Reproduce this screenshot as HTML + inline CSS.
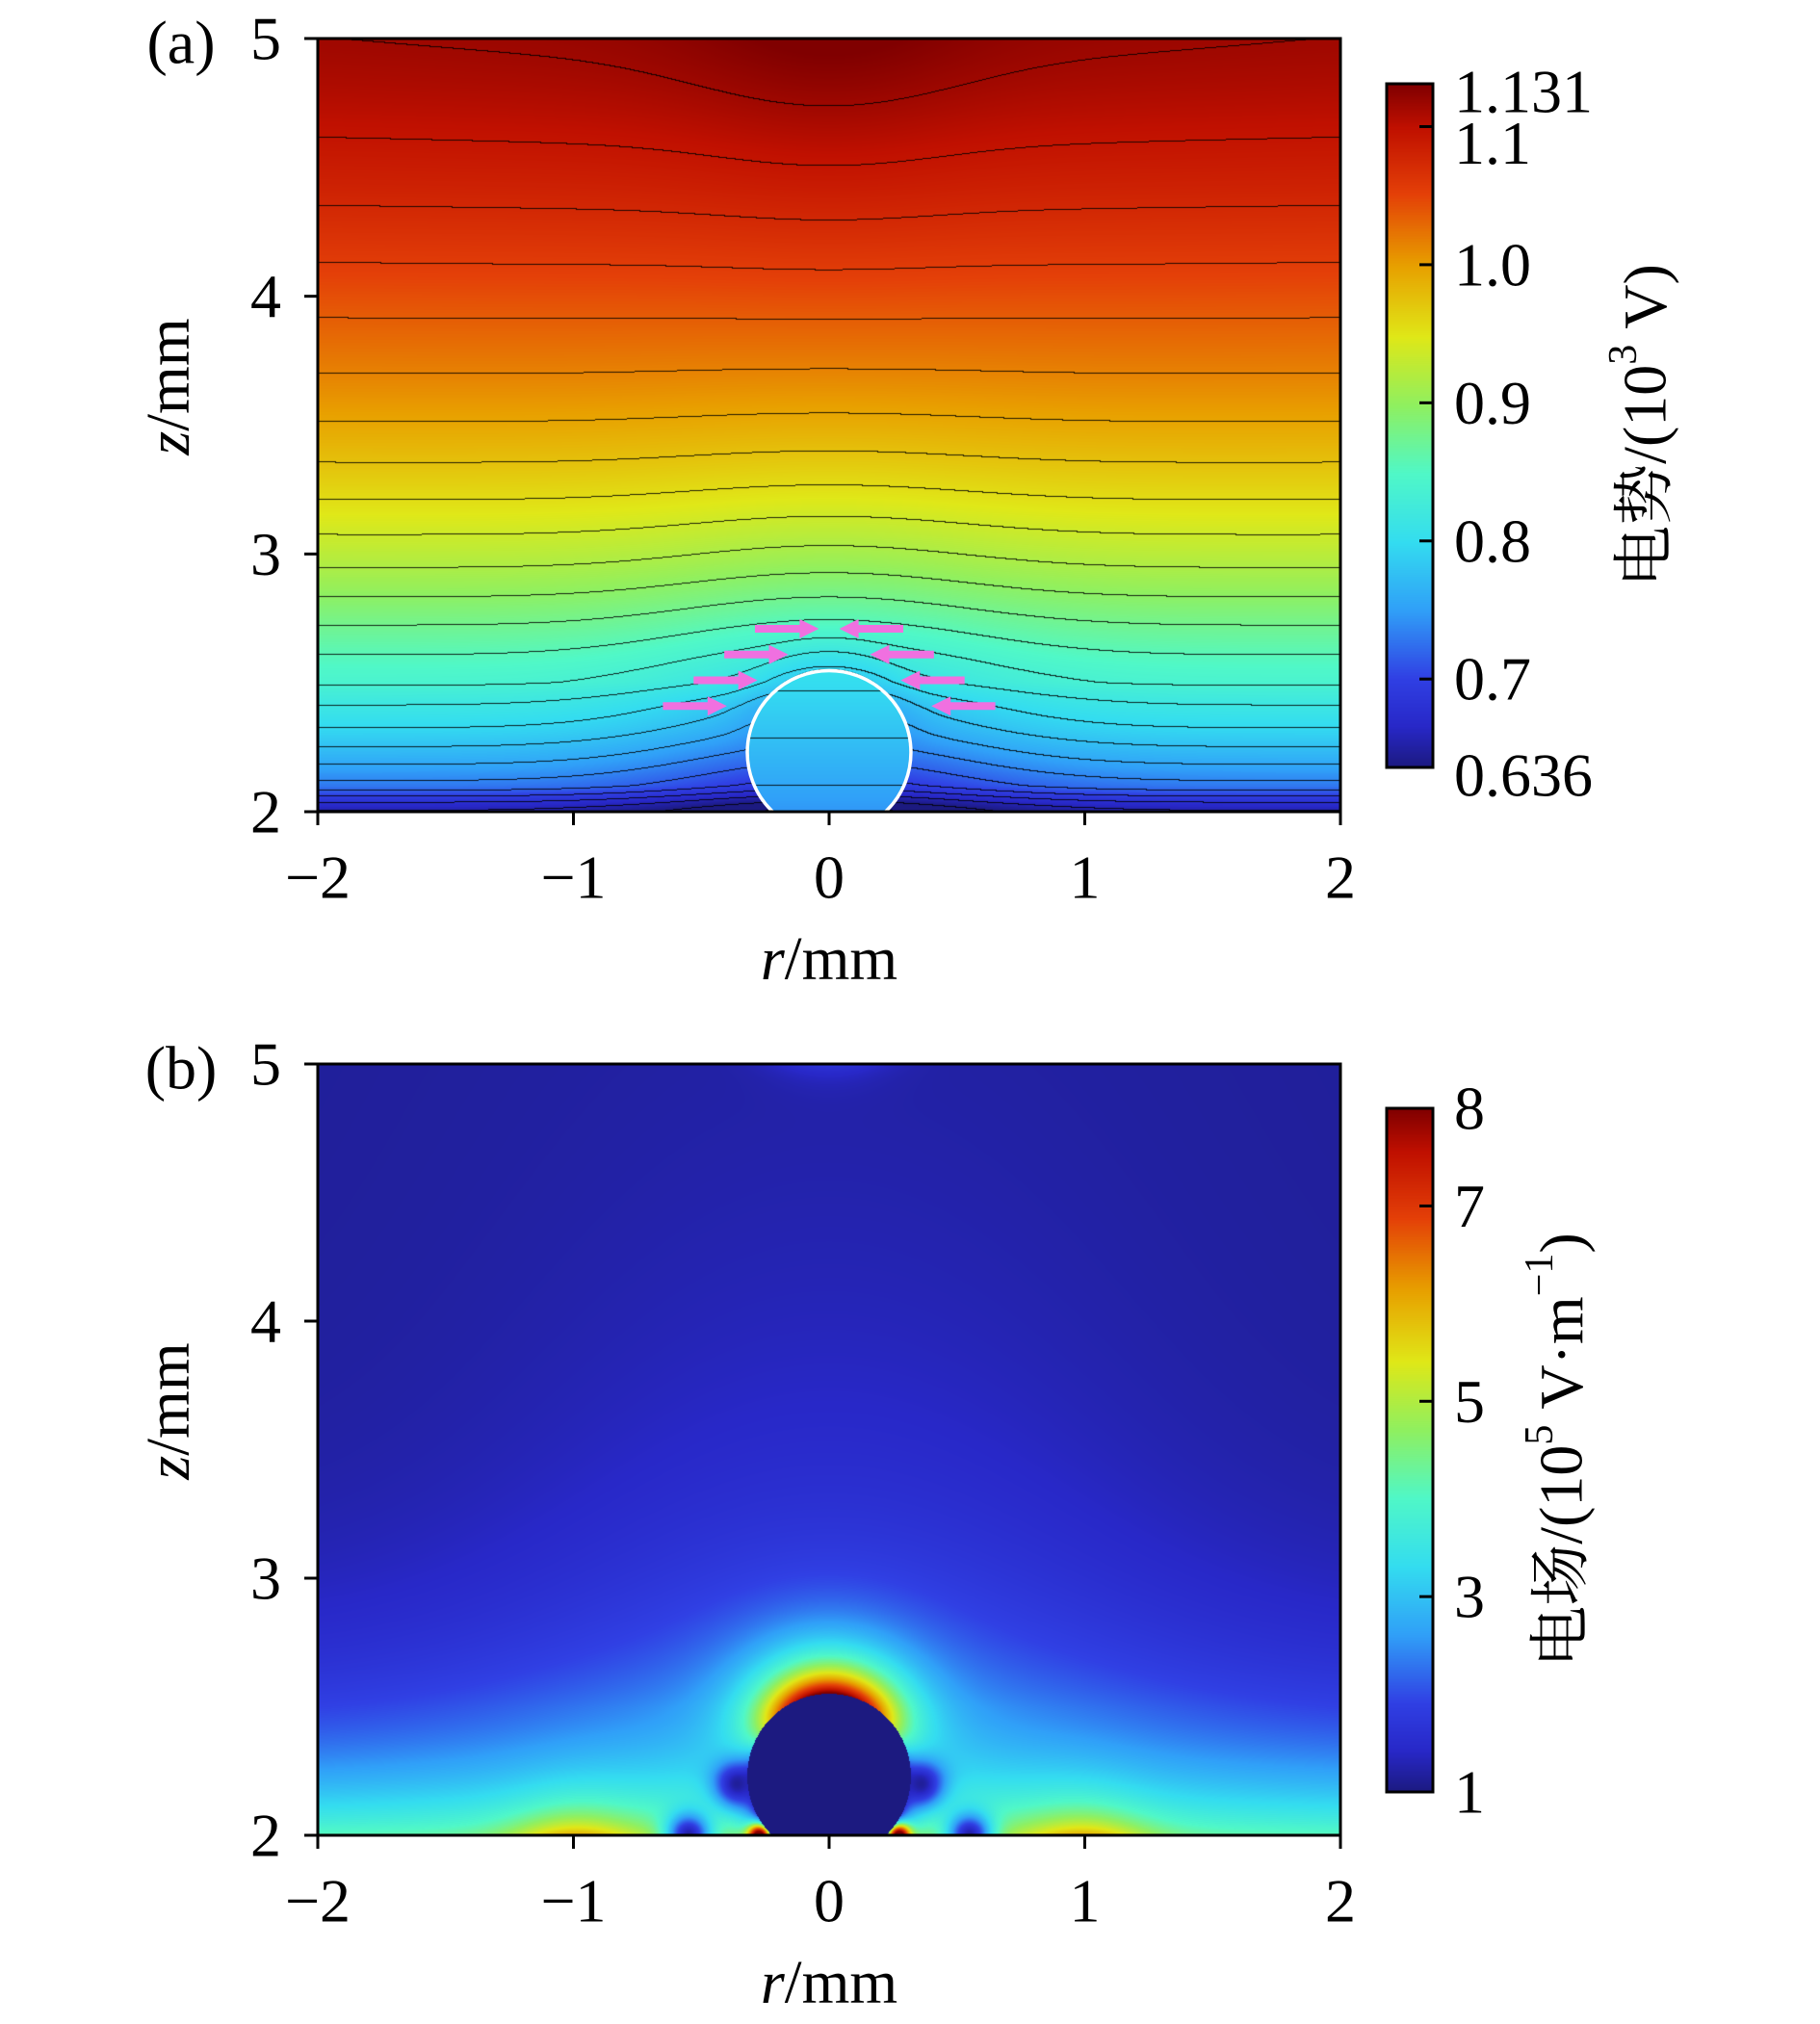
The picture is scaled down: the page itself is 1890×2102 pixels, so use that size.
<!DOCTYPE html>
<html><head><meta charset="utf-8">
<style>
html,body{margin:0;padding:0;background:#fff;}
#wrap{position:relative;width:1890px;height:2102px;overflow:hidden;}
canvas{position:absolute;left:0;top:0;}
svg{position:absolute;left:0;top:0;}
text{font-family:"Liberation Serif","Noto Serif CJK SC",serif;fill:#000;}
</style></head>
<body>
<div id="wrap">
<canvas id="cv" width="1890" height="2102"></canvas>
<svg id="sv" width="1890" height="2102" xmlns="http://www.w3.org/2000/svg"></svg>
</div>
<script>
// ---- data ----
const xTicks = [-2,-1,0,1,2];
const xTickLabels = ["\u22122","\u22121","0","1","2"];
const yTicks = [2,3,4,5];
const yTickLabels = ["2","3","4","5"];
const cbATicks = [0.636,0.7,0.8,0.9,1.0,1.1,1.131];
const cbATickLabels = ["0.636","0.7","0.8","0.9","1.0","1.1","1.131"];
const cbBTicks = [1,3,5,7,8];
const cbBTickLabels = ["1","3","5","7","8"];
const potZ = [2.0,2.1,2.3,2.5,3.0,3.5,4.0,4.5,5.0];
const potV = [0.655,0.73,0.79,0.84,0.925,0.995,1.045,1.09,1.12];
const contourStep = 0.02;
const sphereR = 0.32, sphereZ = 2.23;
const arrowRows = [2.71,2.61,2.51,2.41];

// ---- geometry ----
const X0=330,X1=1392;
const panels=[{top:40,bot:843},{top:1105,bot:1906}];
const xs=r=>X0+(r+2)*(X1-X0)/4;
const ys=(p,z)=>p.bot-(z-2)*(p.bot-p.top)/3;

// colormap
const cmT=[0,0.06,0.13,0.23,0.33,0.43,0.53,0.63,0.735,0.84,0.937,1];
const cmC=[[28,26,128],[40,40,200],[48,64,228],[48,160,248],[52,221,240],[80,248,200],[144,240,96],[224,232,24],[232,160,0],[228,64,8],[192,16,0],[128,0,0]];
function cmap(t){t=Math.max(0,Math.min(1,t));for(let i=1;i<cmT.length;i++){if(t<=cmT[i]){const f=(t-cmT[i-1])/(cmT[i]-cmT[i-1]);const a=cmC[i-1],b=cmC[i];return [a[0]+(b[0]-a[0])*f,a[1]+(b[1]-a[1])*f,a[2]+(b[2]-a[2])*f];}}return cmC[cmC.length-1];}

function base(z){
  const n=potZ.length;
  if(z<=potZ[0])return potV[0]; if(z>=potZ[n-1])return potV[n-1];
  let i=0;while(z>potZ[i+1])i++;
  const p0=potV[Math.max(0,i-1)],p1=potV[i],p2=potV[i+1],p3=potV[Math.min(n-1,i+2)];
  const t=(z-potZ[i])/(potZ[i+1]-potZ[i]);
  return 0.5*((2*p1)+(-p0+p2)*t+(2*p0-5*p1+4*p2-p3)*t*t+(-p0+3*p1-3*p2+p3)*t*t*t);
}
function pot(r,z){
  const d=Math.hypot(r,z-sphereZ);
  if(d<sphereR) return 0.745+0.06*(z-2)/0.55;
  const G=Math.exp(-r*r/(2*0.5*0.5));
  const Gt=Math.exp(-r*r/(2*0.4*0.4));
  const W=Math.exp(-r*r/(2*1.3*1.3));
  let v=base(z)+G*(-0.045*Math.exp(-Math.max(0,z-2.4)/0.55))+0.015*Gt*Math.exp(-(5-z)/0.6)-0.006*(1-W)*Math.exp(-(5-z)/0.8);
  v-=0.02*Math.exp(-Math.pow(d-sphereR,2)/0.01)*Math.max(0,(z-sphereZ)/d);
  return v;
}
function field(r,z){
  const d=Math.hypot(r,z-sphereZ);
  if(d<sphereR) return 1.0;
  const dd=d-sphereR, c=Math.max(0,(z-sphereZ)/d);
  const ar=Math.abs(r);
  const s=1-Math.exp(-(Math.pow(ar-0.55,2)+Math.pow(z-2,2))/0.008);
  const sc=1-Math.exp(-(Math.pow(ar-0.36,2)+Math.pow(z-2.2,2))/0.008);
  let e=1.15;
  e+=0.8*Math.exp(-r*r/1.6)*Math.exp(-Math.max(0,z-2.5)/1.0)*s*sc;
  e+=0.5*Math.exp(-r*r/0.05)*Math.exp(-(5-z)/0.05);
  e+=2.9*Math.exp(-(z-2)/0.35)*s*sc*(1-Math.exp(-dd/0.05));
  e+=1.6*Math.exp(-Math.pow(ar-1,2)/0.06)*Math.exp(-(z-2)/0.1);
  e+=6.3*Math.pow(c,1.3)*Math.exp(-dd/0.12);
  e+=5.5*Math.exp(-(Math.pow(ar-0.27,2)+Math.pow(z-2,2))/0.002);
  return e;
}

const cv=document.getElementById('cv');const ctx=cv.getContext('2d');
function drawPanel(p,fn,vmin,vmax,contours){
  const W=X1-X0,H=p.bot-p.top;
  const img=ctx.createImageData(W,H);
  const vals=new Float32Array(W*H);
  for(let j=0;j<H;j++){const z=5-(j+0.5)*3/H;for(let i=0;i<W;i++){const r=-2+(i+0.5)*4/W;vals[j*W+i]=fn(r,z);}}
  for(let j=0;j<H;j++)for(let i=0;i<W;i++){
    const v=vals[j*W+i];let c=cmap((v-vmin)/(vmax-vmin));
    if(contours){const k=Math.floor((v-0.636)/contourStep);
      let edge=false;
      if(i<W-1&&Math.floor((vals[j*W+i+1]-0.636)/contourStep)!==k)edge=true;
      if(j<H-1&&Math.floor((vals[(j+1)*W+i]-0.636)/contourStep)!==k)edge=true;
      if(edge)c=[c[0]*0.15,c[1]*0.15,c[2]*0.15];}
    const o=(j*W+i)*4;img.data[o]=c[0];img.data[o+1]=c[1];img.data[o+2]=c[2];img.data[o+3]=255;}
  ctx.putImageData(img,X0,p.top);
}
drawPanel(panels[0],pot,0.636,1.131,true);
drawPanel(panels[1],field,1,8,false);
function drawCB(x,y0,y1){for(let y=y0;y<y1;y++){const c=cmap(1-(y-y0)/(y1-y0));ctx.fillStyle=`rgb(${c[0]|0},${c[1]|0},${c[2]|0})`;ctx.fillRect(x,y,48,1);}}
const cbs=[{x:1440,y0:87,y1:797,vmin:0.636,vmax:1.131,ticks:cbATicks,labels:cbATickLabels},{x:1440,y0:1151,y1:1861,vmin:1,vmax:8,ticks:cbBTicks,labels:cbBTickLabels}];
cbs.forEach(c=>drawCB(c.x,c.y0,c.y1));

// ---- svg overlay ----
const NS='http://www.w3.org/2000/svg';const sv=document.getElementById('sv');
function el(tag,attrs,parent){const e=document.createElementNS(NS,tag);for(const k in attrs)e.setAttribute(k,attrs[k]);(parent||sv).appendChild(e);return e;}
function txt(s,x,y,size,anchor,parent){const t=el('text',{x:x,y:y,'font-size':size,'text-anchor':anchor||'middle','dominant-baseline':'central'},parent);t.textContent=s;return t;}
const FS=64;

panels.forEach((p,pi)=>{
  const g=el('g',{});
  
  
  if(pi===0){
    const cp=el('clipPath',{id:'clipA'},sv);el('rect',{x:X0,y:p.top,width:X1-X0,height:p.bot-p.top},cp);
    const circ=el('circle',{cx:xs(0),cy:ys(p,sphereZ),r:sphereR*(X1-X0)/4,fill:'none',stroke:'#fff','stroke-width':3.5,'clip-path':'url(#clipA)'},g);
    
    
    arrowRows.forEach((z,k)=>{
      const y=ys(p,z);
      [-1,1].forEach(sd=>{
        const a=el('g',{},g);
        
        
        const dir=-sd;
        const tip=xs(sd*(0.04+k*0.12)), tail=xs(sd*(0.29+k*0.12));
        el('line',{x1:tail,y1:y,x2:tip-dir*14,y2:y,stroke:'#f070e0','stroke-width':8},a);
        el('polygon',{points:`${tip},${y} ${tip-dir*20},${y-10} ${tip-dir*20},${y+10}`,fill:'#f070e0'},a);
      });
    });
  }
  const fr=el('rect',{x:X0,y:p.top,width:X1-X0,height:p.bot-p.top,fill:'none',stroke:'#000','stroke-width':3},g);
  
  
  xTicks.forEach((v,i)=>{
    el('line',{x1:xs(v),y1:p.bot,x2:xs(v),y2:p.bot+14,stroke:'#000','stroke-width':3},g);
    const t=txt(xTickLabels[i],xs(v),p.bot+68,FS,'middle',g);
    
    
  });
  yTicks.forEach((v,i)=>{
    el('line',{x1:X0-14,y1:ys(p,v),x2:X0,y2:ys(p,v),stroke:'#000','stroke-width':3},g);
    const t=txt(yTickLabels[i],292,ys(p,v),FS,'end',g);
    
    
  });
  const xt=el('text',{x:xs(0),y:p.bot+152,'font-size':FS,'text-anchor':'middle','dominant-baseline':'central'},g);
  xt.innerHTML='<tspan font-style="italic">r</tspan>/mm';
  
  
  const yt=el('text',{x:0,y:0,'font-size':FS,'text-anchor':'middle','dominant-baseline':'central',transform:`translate(174,${(p.top+p.bot)/2-40}) rotate(-90)`},g);
  yt.innerHTML='<tspan font-style="italic">z</tspan>/mm';
  
  
  const pl=txt(pi===0?'(a)':'(b)',188,p.top+4,FS,'middle',g);
  
  
});

cbs.forEach((c,ci)=>{
  const g=el('g',{});
  
  
  el('rect',{x:c.x,y:c.y0,width:48,height:c.y1-c.y0,fill:'none',stroke:'#000','stroke-width':3},g);
  const cy=v=>c.y1-(v-c.vmin)/(c.vmax-c.vmin)*(c.y1-c.y0);
  c.ticks.forEach((v,i)=>{
    const y=cy(v);
    if(v!==c.vmin&&v!==c.vmax) el('line',{x1:c.x+34,y1:y,x2:c.x+48,y2:y,stroke:'#000','stroke-width':3},g);
    let ly=y; if(ci===0&&i===c.ticks.length-1) ly=y+8; if(ci===0&&i===c.ticks.length-2) ly=y+17; if(ci===0&&i===0) ly=y+8;
    const t=txt(c.labels[i],1510,ly,FS,'start',g);
    
    
  });
  const tx=ci===0?1708:1621;
  const tl=el('text',{x:0,y:0,'font-size':FS,'text-anchor':'middle','dominant-baseline':'central',transform:`translate(${tx},${(c.y0+c.y1)/2}) rotate(-90)`},g);
  tl.innerHTML=ci===0?'电势/(10<tspan font-size="42" dy="-22">3</tspan><tspan dy="22"> V)</tspan>':'电场/(10<tspan font-size="42" dy="-22">5</tspan><tspan dy="22"> V·m</tspan><tspan font-size="42" dy="-22">−1</tspan><tspan dy="22">)</tspan>';
  
  
});
</script>
</body></html>
